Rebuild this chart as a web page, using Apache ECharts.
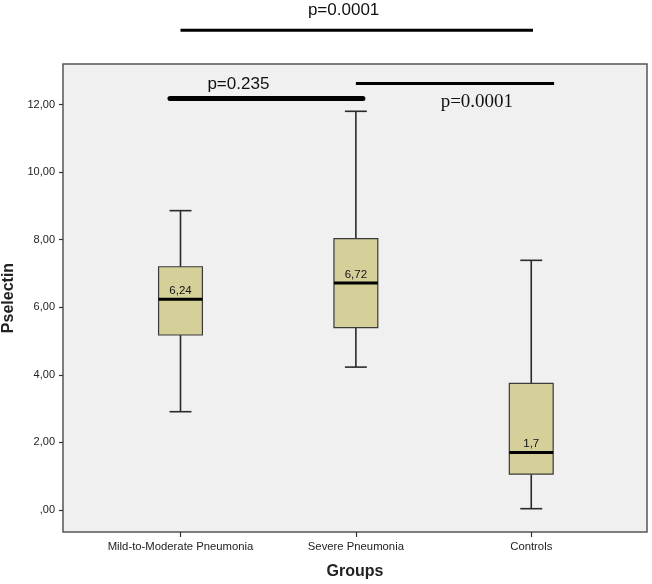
<!DOCTYPE html>
<html>
<head>
<meta charset="utf-8">
<script src="https://cdn.jsdelivr.net/npm/echarts@6/dist/echarts.min.js"></script>
<style>
html,body{margin:0;padding:0;background:#fff;}
#chart{width:652px;height:584px;}
</style>
</head>
<body>
<div id="chart"></div>
<script>
// ---- data ----
const groups = ['Mild-to-Moderate Pneumonia', 'Severe Pneumonia', 'Controls'];
const whiskerLow  = [2.91, 4.23, 0.04];
const quartile1   = [5.18, 5.40, 1.06];
const median      = [6.24, 6.72, 1.70];
const quartile3   = [7.20, 8.03, 3.75];
const whiskerHigh = [8.86, 11.80, 7.39];
const medianLabels = ['6,24', '6,72', '1,7'];

const yTickValues = [0, 2, 4, 6, 8, 10, 12];
const yTickLabels = [',00', '2,00', '4,00', '6,00', '8,00', '10,00', '12,00'];

// comparisons: group span (in category units), bar level (Pselectin units), p label
const compFrom  = [0.00, -0.06, 1.00];
const compTo    = [2.01, 1.04, 2.13];
const compLevel = [14.20, 12.18, 12.62];
const compText  = ['p=0.0001', 'p=0.235', 'p=0.0001'];
const compTextX = [0.93, 0.33, 1.69];
const compTextY = [14.80, 12.59, 12.07];

// ---- build ----
const boxData = groups.map((g, i) => [i, whiskerLow[i], quartile1[i], median[i], quartile3[i], whiskerHigh[i]]);
const compData = compFrom.map((f, i) => [f, compTo[i], compLevel[i], compTextX[i], compTextY[i]]);

const chart = echarts.init(document.getElementById('chart'), null, {renderer: 'canvas'});

const option = {
  backgroundColor: '#ffffff',
  animation: false,
  grid: {
    left: 63, right: 5, top: 64, bottom: 52,
    outerBoundsMode: 'none',
    containLabel: false,
    show: true,
    backgroundColor: '#f0f0f0',
    borderColor: '#555555',
    borderWidth: 1.5
  },
  xAxis: {
    type: 'value',
    min: -0.67,
    max: 2.66,
    name: 'Groups',
    nameLocation: 'middle',
    nameGap: 32,
    nameTextStyle: {fontFamily: 'Liberation Sans, Arial, sans-serif', fontWeight: 'bold', fontSize: 16, color: '#222'},
    axisLine: {show: false, onZero: false},
    splitLine: {show: false},
    axisTick: {show: true, length: 5, customValues: [0, 1, 2], lineStyle: {color: '#333', width: 1.2}},
    axisLabel: {
      customValues: [0, 1, 2],
      margin: 9,
      fontFamily: 'Liberation Sans, Arial, sans-serif',
      fontSize: 11.3,
      color: '#222',
      formatter: v => groups[Math.round(v)]
    }
  },
  yAxis: {
    type: 'value',
    min: -0.65,
    max: 13.2,
    name: 'Pselectin',
    nameLocation: 'middle',
    nameGap: 44,
    nameRotate: 90,
    nameTextStyle: {fontFamily: 'Liberation Sans, Arial, sans-serif', fontWeight: 'bold', fontSize: 16, color: '#222'},
    axisLine: {show: false, onZero: false},
    splitLine: {show: false},
    axisTick: {show: true, length: 4, customValues: yTickValues, lineStyle: {color: '#333', width: 1.2}},
    axisLabel: {
      customValues: yTickValues,
      margin: 8,
      fontFamily: 'Liberation Sans, Arial, sans-serif',
      fontSize: 11,
      color: '#222',
      formatter: v => yTickLabels[yTickValues.indexOf(Math.round(v))]
    }
  },
  series: [
    {
      type: 'custom',
      name: 'box',
      data: boxData,
      encode: {x: 0, y: [1, 2, 3, 4, 5]},
      renderItem: function (params, api) {
        const x = api.value(0);
        const pLo = api.coord([x, api.value(1)]);
        const pQ1 = api.coord([x, api.value(2)]);
        const pMed = api.coord([x, api.value(3)]);
        const pQ3 = api.coord([x, api.value(4)]);
        const pHi = api.coord([x, api.value(5)]);
        const w = api.size([0.25, 0])[0];
        const cap = w / 2;
        const cx = pMed[0];
        const whiskerStyle = {stroke: '#2a2a2a', lineWidth: 1.6};
        return {
          type: 'group',
          children: [
            {type: 'line', shape: {x1: cx, y1: pQ3[1], x2: cx, y2: pHi[1]}, style: whiskerStyle},
            {type: 'line', shape: {x1: cx, y1: pQ1[1], x2: cx, y2: pLo[1]}, style: whiskerStyle},
            {type: 'line', shape: {x1: cx - cap / 2, y1: pHi[1], x2: cx + cap / 2, y2: pHi[1]}, style: whiskerStyle},
            {type: 'line', shape: {x1: cx - cap / 2, y1: pLo[1], x2: cx + cap / 2, y2: pLo[1]}, style: whiskerStyle},
            {type: 'rect', shape: {x: cx - w / 2, y: pQ3[1], width: w, height: pQ1[1] - pQ3[1]},
              style: {fill: '#d5d09a', stroke: '#3a3a3a', lineWidth: 1.2}},
            {type: 'line', shape: {x1: cx - w / 2, y1: pMed[1], x2: cx + w / 2, y2: pMed[1]},
              style: {stroke: '#000', lineWidth: 3}},
            {type: 'text', x: cx, y: pMed[1] - 2.5,
              style: {text: medianLabels[params.dataIndex], fill: '#111', font: '11.5px "Liberation Sans", Arial, sans-serif',
                align: 'center', verticalAlign: 'bottom'}}
          ]
        };
      }
    },
    {
      type: 'custom',
      name: 'comparisons',
      data: compData,
      clip: false,
      silent: true,
      encode: {x: [0, 1], y: 2},
      renderItem: function (params, api) {
        const i = params.dataIndex;
        const a = api.coord([api.value(0), api.value(2)]);
        const b = api.coord([api.value(1), api.value(2)]);
        const t = api.coord([api.value(3), api.value(4)]);
        const widths = [3, 5, 3];
        const fonts = ['17px "Liberation Sans", Arial, sans-serif', '17px "Liberation Sans", Arial, sans-serif', '19px "Liberation Serif", "Times New Roman", serif'];
        return {
          type: 'group',
          children: [
            {type: 'line', shape: {x1: a[0], y1: a[1], x2: b[0], y2: b[1]},
              style: {stroke: '#000', lineWidth: widths[i], lineCap: i === 1 ? 'round' : 'butt'}},
            {type: 'text', x: t[0], y: t[1],
              style: {text: compText[i], fill: '#111', font: fonts[i], align: 'center', verticalAlign: 'middle'}}
          ]
        };
      }
    }
  ]
};
chart.setOption(option);
</script>
</body>
</html>
